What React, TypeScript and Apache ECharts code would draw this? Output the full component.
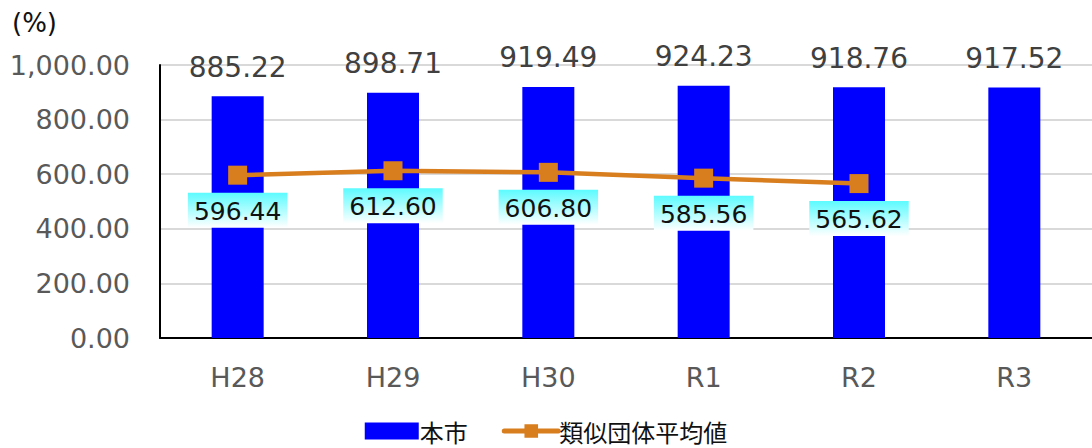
import React, { useEffect, useRef } from "react";
import * as echarts from "echarts";

const categories = ["H28", "H29", "H30", "R1", "R2", "R3"];
const cityValues = [885.22, 898.71, 919.49, 924.23, 918.76, 917.52];
const similarAvg: (number | null)[] = [596.44, 612.6, 606.8, 585.56, 565.62, null];
const yTicks = [0, 200, 400, 600, 800, 1000];

const FONT = "'DejaVu Sans', 'Noto Sans CJK JP', sans-serif";
const CJK = "'Noto Sans CJK JP', sans-serif";
const fmt = (v: number) =>
  v.toLocaleString("en-US", { minimumFractionDigits: 2, maximumFractionDigits: 2 });

export default function App() {
  const ref = useRef<HTMLDivElement>(null);

  useEffect(() => {
    document.body.style.margin = "0";
    const chart = echarts.init(ref.current!, null, { renderer: "svg" });
    chart.setOption({
      animation: false,
      textStyle: { fontFamily: FONT },
      graphic: [
        {
          type: "text",
          left: 12,
          top: 10,
          style: { text: "(%)", fontSize: 26, fontFamily: FONT, fill: "#111" },
        },
      ],
      legend: {
        bottom: 0,
        left: "center",
        itemGap: 34,
        itemWidth: 54,
        itemHeight: 17,
        textStyle: { fontSize: 24, color: "#111", fontFamily: CJK, padding: [0, 0, 0, -4] },
        data: [
          { name: "本市", icon: "rect" },
          {
            name: "類似団体平均値",
            lineStyle: { width: 5, cap: "round", color: "#d97e1f" },
          },
        ],
      },
      grid: { left: 160, top: 65, right: -10, bottom: 110 },
      xAxis: {
        type: "category",
        data: categories,
        axisLine: { lineStyle: { color: "#000", width: 2 } },
        axisTick: { show: false },
        axisLabel: { fontSize: 27, color: "#595959", margin: 26, fontFamily: FONT },
      },
      yAxis: {
        type: "value",
        min: yTicks[0],
        max: yTicks[yTicks.length - 1],
        interval: 200,
        axisLine: { show: true, lineStyle: { color: "#000", width: 2 } },
        splitLine: { lineStyle: { color: "#d9d9d9", width: 2 } },
        axisLabel: {
          fontSize: 27,
          color: "#595959",
          margin: 30,
          fontFamily: FONT,
          formatter: (v: number) => fmt(v),
        },
      },
      series: [
        {
          name: "本市",
          type: "bar",
          data: cityValues,
          barWidth: 52,
          itemStyle: { color: "#0000ff" },
          label: {
            show: true,
            position: "top",
            distance: 15,
            fontSize: 28,
            color: "#404040",
            fontFamily: FONT,
            formatter: (p: any) => fmt(p.value),
          },
        },
        {
          name: "類似団体平均値",
          type: "line",
          data: similarAvg,
          symbol: "rect",
          symbolSize: 19,
          lineStyle: { color: "#d97e1f", width: 4.5, cap: "round" },
          itemStyle: { color: "#d97e1f" },
          z: 5,
          label: {
            show: true,
            position: "bottom",
            distance: 8,
            fontSize: 25,
            color: "#111",
            fontFamily: FONT,
            padding: [6, 6, 4, 6],
            backgroundColor: {
              type: "linear",
              x: 0,
              y: 0,
              x2: 0,
              y2: 1,
              colorStops: [
                { offset: 0, color: "#5cfbff" },
                { offset: 1, color: "#ffffff" },
              ],
            },
            formatter: (p: any) => fmt(p.value),
          },
        },
      ],
    });
    return () => chart.dispose();
  }, []);

  return <div ref={ref} style={{ width: 1092, height: 448 }} />;
}
